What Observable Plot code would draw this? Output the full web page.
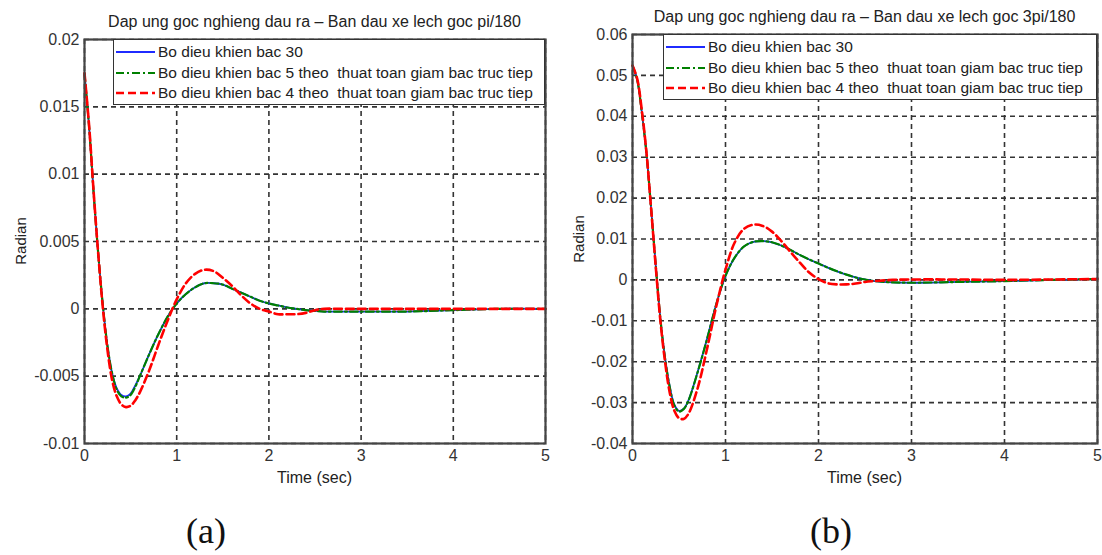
<!DOCTYPE html>
<html>
<head>
<meta charset="utf-8">
<script src="https://cdn.jsdelivr.net/npm/d3@7"></script>
<script src="https://cdn.jsdelivr.net/npm/@observablehq/plot@0.6"></script>
<style>
  body { margin: 0; background: #fff; }
  #root { position: relative; width: 1102px; height: 555px; overflow: hidden;
          font-family: "Liberation Sans", Arial, sans-serif; color: #222; }
  .panel { position: absolute; top: 0; }
  .lbl { position: absolute; white-space: pre; transform: translate(-50%, -50%); line-height: 1; }
  .ylab { position: absolute; white-space: pre; transform: translate(-50%, -50%) rotate(-90deg); line-height: 1; font-size: 15px; }
  .legend { position: absolute; background: #fff; border: 1.5px solid #333; box-sizing: border-box; }
  .row { position: absolute; left: 0; right: 0; height: 20px; }
  .row svg { position: absolute; left: 2px; top: 0; }
  .row span { position: absolute; left: 44px; top: 50%; transform: translateY(-50%); white-space: pre; font-size: 15.5px; line-height: 1; }
  .cap { position: absolute; font-family: "Liberation Serif", "Times New Roman", serif; font-size: 36px; transform: translate(-50%, -50%); line-height: 1.1; color: #111; }
</style>
</head>
<body>
<div id="root"></div>
<script>
// ---------------- data ----------------
const time = [0,0.05,0.1,0.15,0.2,0.25,0.3,0.35,0.4,0.45,0.5,0.55,0.6,0.7,0.8,0.9,1.0,1.1,1.2,1.3,1.4,1.5,1.6,1.7,1.8,1.9,2.0,2.1,2.2,2.3,2.4,2.5,2.6,2.8,3.0,3.5,4.0,4.5,5.0];

const seriesNames = [
  "Bo dieu khien bac 30",
  "Bo dieu khien bac 5 theo  thuat toan giam bac truc tiep",
  "Bo dieu khien bac 4 theo  thuat toan giam bac truc tiep"
];
const seriesColors = ["#1f2bff", "#008000", "#ff0000"];
const seriesDash = [null, "8,3,2,3", "8,4"];
const seriesWidth = [1.8, 2.2, 2.6];

// (a) initial tilt pi/180
const aOrder30 = [0.01745,0.0135,0.0085,0.0040,0.0002,-0.0028,-0.0048,-0.0059,-0.0064,-0.0065,-0.0063,-0.0057,-0.0050,-0.0034,-0.0019,-0.0006,0.0004,0.0011,0.0016,0.0019,0.0019,0.0018,0.0015,0.0012,0.0009,0.0006,0.0004,0.00025,0.0001,0.0,-0.0001,-0.00015,-0.0002,-0.0002,-0.0002,-0.0002,-0.0001,0,0];
const aOrder5  = [0.01745,0.0135,0.0085,0.0040,0.0002,-0.0028,-0.0048,-0.0060,-0.0065,-0.0066,-0.0064,-0.0058,-0.0050,-0.0034,-0.0019,-0.0006,0.0004,0.0011,0.0016,0.0019,0.0019,0.0018,0.0015,0.0012,0.0009,0.0006,0.0004,0.00025,0.0001,0.0,-0.0001,-0.00015,-0.0002,-0.0002,-0.0002,-0.0002,-0.0001,0,0];
const aOrder4  = [0.0175,0.0136,0.0086,0.0040,0.0000,-0.0031,-0.0053,-0.0065,-0.0071,-0.0073,-0.0072,-0.0068,-0.0062,-0.0046,-0.0027,-0.0009,0.0007,0.0019,0.0026,0.0029,0.0028,0.0023,0.0017,0.0010,0.0004,0.0000,-0.0002,-0.0004,-0.0004,-0.0004,-0.0003,-0.0001,0,0,0,0,0,0,0];

// (b) initial tilt 3pi/180
const bOrder30 = [0.0524,0.049,0.041,0.031,0.0175,0.0035,-0.0095,-0.019,-0.026,-0.0305,-0.032,-0.0315,-0.0295,-0.0225,-0.0145,-0.006,0.001,0.0055,0.0082,0.0093,0.0095,0.0092,0.0084,0.0073,0.0061,0.005,0.004,0.003,0.0021,0.0013,0.0006,0.0001,-0.0003,-0.0006,-0.0007,-0.0005,-0.0003,0,0.0002];
const bOrder5  = [0.0524,0.049,0.041,0.031,0.0175,0.0035,-0.0095,-0.0192,-0.0262,-0.0307,-0.0322,-0.0316,-0.0296,-0.0226,-0.0146,-0.006,0.001,0.0055,0.0082,0.0093,0.0095,0.0092,0.0084,0.0073,0.0061,0.005,0.004,0.003,0.0021,0.0013,0.0006,0.0001,-0.0003,-0.0006,-0.0007,-0.0005,-0.0003,0,0.0002];
const bOrder4  = [0.0524,0.0492,0.0415,0.0312,0.0175,0.0032,-0.0100,-0.0200,-0.0275,-0.0320,-0.0338,-0.0340,-0.0328,-0.0265,-0.0170,-0.0065,0.0025,0.0092,0.0125,0.0135,0.0132,0.0118,0.0095,0.0068,0.0042,0.0018,0.0002,-0.0008,-0.0011,-0.0011,-0.0009,-0.0005,-0.0003,0,0.0001,0.0001,0,0.0001,0.0002];

const xTicks = [0,1,2,3,4,5];
const aYTicks = [-0.01,-0.005,0,0.005,0.01,0.015,0.02];
const aYLabels = ["-0.01","-0.005","0","0.005","0.01","0.015","0.02"];
const bYTicks = [-0.04,-0.03,-0.02,-0.01,0,0.01,0.02,0.03,0.04,0.05,0.06];
const bYLabels = ["-0.04","-0.03","-0.02","-0.01","0","0.01","0.02","0.03","0.04","0.05","0.06"];

const titleA = "Dap ung goc nghieng dau ra – Ban dau xe lech goc pi/180";
const titleB = "Dap ung goc nghieng dau ra – Ban dau xe lech goc 3pi/180";
const xLabel = "Time (sec)";
const yLabel = "Radian";

// ---------------- drawing ----------------
const root = document.getElementById("root");

function panel(cfg) {
  const series = [cfg.s30, cfg.s5, cfg.s4];
  const lines = series.map((vals, k) =>
    Plot.line(time.map((t, i) => ({t, v: vals[i]})), {
      x: "t", y: "v", stroke: seriesColors[k], strokeWidth: seriesWidth[k],
      strokeDasharray: seriesDash[k], curve: "catmull-rom"
    })
  );
  const chart = Plot.plot({
    width: cfg.width, height: 555,
    marginLeft: cfg.ml, marginRight: cfg.mr, marginTop: cfg.mt, marginBottom: 112,
    style: {fontFamily: "'Liberation Sans', Arial, sans-serif", fontSize: "15px", color: "#333", background: "#fff"},
    x: {domain: [0, 5]},
    y: {domain: cfg.yDomain},
    marks: [
      Plot.gridX(xTicks, {stroke: "#333", strokeOpacity: 1, strokeWidth: 1.6, strokeDasharray: "5,4"}),
      Plot.gridY(cfg.yTicks, {stroke: "#333", strokeOpacity: 1, strokeWidth: 1.6, strokeDasharray: "5,4"}),
      Plot.axisX(xTicks, {tickSize: 0, tickPadding: 6, label: null, fontSize: 16, tickFormat: d => String(d)}),
      Plot.axisY(cfg.yTicks, {tickSize: 0, tickPadding: 5, label: null, fontSize: 16,
        tickFormat: d => cfg.yLabels[cfg.yTicks.indexOf(d)]}),
      ...lines,
      Plot.frame({stroke: "#444", strokeWidth: 2.2})
    ]
  });
  const wrap = document.createElement("div");
  wrap.className = "panel";
  wrap.style.left = cfg.left + "px";
  wrap.appendChild(chart);
  root.appendChild(wrap);

  const fx0 = cfg.left + cfg.ml, fx1 = cfg.left + cfg.width - cfg.mr;
  const cx = (fx0 + fx1) / 2;
  const fy0 = cfg.mt, fy1 = 555 - 112;

  // legend
  const lg = document.createElement("div");
  lg.className = "legend";
  lg.style.left = cfg.legendLeft + "px";
  lg.style.top = fy0 + "px";
  lg.style.width = (fx1 - cfg.legendLeft) + "px";
  lg.style.height = "66px";
  seriesNames.forEach((name, k) => {
    const r = document.createElement("div");
    r.className = "row";
    r.style.top = (2 + k * 20.5) + "px";
    const dash = seriesDash[k] ? `stroke-dasharray="${seriesDash[k]}"` : "";
    r.innerHTML = `<svg width="40" height="20"><line x1="0" x2="39" y1="10" y2="10" stroke="${seriesColors[k]}" stroke-width="${seriesWidth[k]}" ${dash}/></svg><span>${name}</span>`;
    lg.appendChild(r);
  });
  root.appendChild(lg);

  // texts
  const t = document.createElement("div");
  t.className = "lbl"; t.style.fontSize = "16px";
  t.style.left = cx + "px"; t.style.top = (fy0 - 17) + "px";
  t.textContent = cfg.title;
  root.appendChild(t);

  const xl = document.createElement("div");
  xl.className = "lbl"; xl.style.fontSize = "16px";
  xl.style.left = cx + "px"; xl.style.top = (fy1 + 35) + "px";
  xl.textContent = xLabel;
  root.appendChild(xl);

  const yl = document.createElement("div");
  yl.className = "ylab";
  yl.style.left = cfg.yLabelX + "px"; yl.style.top = ((fy0 + fy1) / 2) + "px";
  yl.textContent = yLabel;
  root.appendChild(yl);

  const c = document.createElement("div");
  c.className = "cap";
  c.style.left = cfg.capX + "px"; c.style.top = "532px";
  c.textContent = cfg.cap;
  root.appendChild(c);
}

panel({left: 0, width: 560, ml: 84, mr: 15, mt: 39, yDomain: [-0.01, 0.02],
  yTicks: aYTicks, yLabels: aYLabels, s30: aOrder30, s5: aOrder5, s4: aOrder4,
  title: titleA, legendLeft: 113, yLabelX: 20, capX: 206, cap: "(a)"});
panel({left: 560, width: 542, ml: 72, mr: 5, mt: 34, yDomain: [-0.04, 0.06],
  yTicks: bYTicks, yLabels: bYLabels, s30: bOrder30, s5: bOrder5, s4: bOrder4,
  title: titleB, legendLeft: 663, yLabelX: 578, capX: 831, cap: "(b)"});
</script>
</body>
</html>
